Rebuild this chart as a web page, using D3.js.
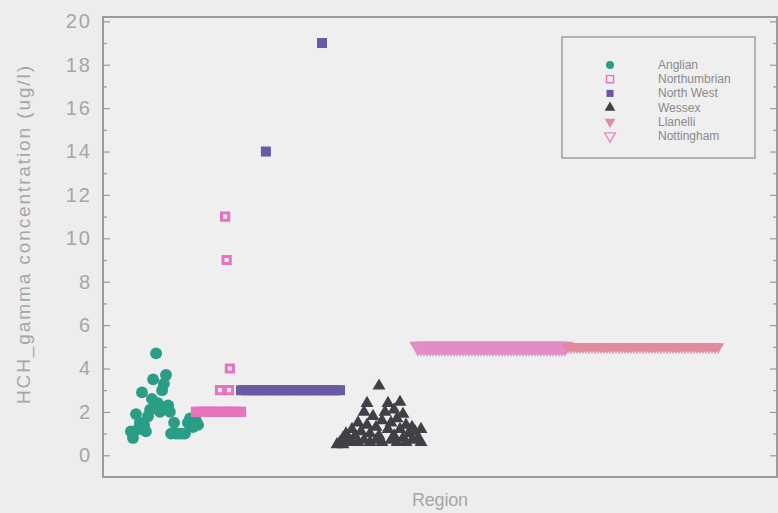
<!DOCTYPE html>
<html>
<head>
<meta charset="utf-8">
<script src="https://cdn.jsdelivr.net/npm/d3@7"></script>
<style>
  html, body { margin: 0; padding: 0; background: #ededed; }
  svg { display: block; }
</style>
</head>
<body>
<svg id="chart" width="778" height="513"></svg>
<script>
// ---------------- data (x = sample position along "Region", y = concentration ug/l)
const seriesNames = ["Anglian", "Northumbrian", "North West", "Wessex", "Llanelli", "Nottingham"];

const anglianX = [9.3, 10, 11, 11.7, 12.3, 13, 13.7, 14.3, 15, 15.7, 16.3, 16.7, 17.7, 18.3, 19, 19.7, 20.3, 21, 21.7, 22.3, 22.7, 23.7, 24.3, 25.3, 26.3, 27.3, 28.3, 29, 30, 31, 31.7];
const anglianY = [1.1, 0.8, 1.9, 1.2, 1.5, 2.9, 1.4, 1.1, 1.8, 2.1, 2.6, 3.5, 4.7, 2.4, 2.0, 3.0, 3.3, 3.7, 2.3, 2.0, 1.0, 1.5, 1.0, 1.0, 1.0, 1.0, 1.5, 1.7, 1.3, 1.6, 1.4];

const northumbrianX = [31, 32, 33, 34, 35, 36, 37, 38, 39, 40, 41, 42, 43, 44, 45, 46, 39, 40.7, 41.2, 42, 42.3];
const northumbrianY = [2, 2, 2, 2, 2, 2, 2, 2, 2, 2, 2, 2, 2, 2, 2, 2, 3, 11, 9, 3, 4];

const northWestX = [46, 47, 48, 49, 50, 51, 52, 53, 54, 55, 56, 57, 58, 59, 60, 61, 62, 63, 64, 65, 66, 67, 68, 69, 70, 71, 72, 73, 74, 75, 76, 77, 78, 79, 54.3, 73];
const northWestY = [3, 3, 3, 3, 3, 3, 3, 3, 3, 3, 3, 3, 3, 3, 3, 3, 3, 3, 3, 3, 3, 3, 3, 3, 3, 3, 3, 3, 3, 3, 3, 3, 3, 3, 14, 19];

const wessexX = [78, 79, 80, 80, 81, 82, 83, 83, 84, 85, 85, 86, 87, 87, 88, 88, 89, 89, 90, 91, 91, 92, 92, 93, 93, 94, 95, 95, 96, 96, 97, 97, 98, 98, 99, 99, 100, 100, 101, 101, 102, 103, 103, 104, 105, 106, 106];
const wessexY = [0.5, 0.6, 0.8, 0.5, 1.0, 0.7, 1.2, 0.6, 0.9, 1.5, 0.6, 1.1, 2.0, 0.7, 2.4, 1.4, 1.0, 0.6, 1.8, 1.3, 0.7, 3.2, 0.9, 1.6, 0.6, 2.0, 2.4, 1.2, 1.5, 0.7, 2.1, 0.9, 1.7, 0.6, 2.45, 1.2, 1.9, 0.8, 1.4, 0.6, 1.0, 1.3, 0.7, 1.1, 0.8, 1.2, 0.6];

const nottinghamX = [105, 106, 107, 108, 109, 110, 111, 112, 113, 114, 115, 116, 117, 118, 119, 120, 121, 122, 123, 124, 125, 126, 127, 128, 129, 130, 131, 132, 133, 134, 135, 136, 137, 138, 139, 140, 141, 142, 143, 144, 145, 146, 147, 148, 149, 150, 151, 152, 153, 154];
const nottinghamY = [5, 5, 5, 5, 5, 5, 5, 5, 5, 5, 5, 5, 5, 5, 5, 5, 5, 5, 5, 5, 5, 5, 5, 5, 5, 5, 5, 5, 5, 5, 5, 5, 5, 5, 5, 5, 5, 5, 5, 5, 5, 5, 5, 5, 5, 5, 5, 5, 5, 5];

const llanelliX = [155, 156, 157, 158, 159, 160, 161, 162, 163, 164, 165, 166, 167, 168, 169, 170, 171, 172, 173, 174, 175, 176, 177, 178, 179, 180, 181, 182, 183, 184, 185, 186, 187, 188, 189, 190, 191, 192, 193, 194, 195, 196, 197, 198, 199, 200, 201, 202, 203, 204, 205];
const llanelliY = [5, 5, 5, 5, 5, 5, 5, 5, 5, 5, 5, 5, 5, 5, 5, 5, 5, 5, 5, 5, 5, 5, 5, 5, 5, 5, 5, 5, 5, 5, 5, 5, 5, 5, 5, 5, 5, 5, 5, 5, 5, 5, 5, 5, 5, 5, 5, 5, 5, 5, 5];

const yTicks = [0, 2, 4, 6, 8, 10, 12, 14, 16, 18, 20];
const yMinorTicks = [1, 3, 5, 7, 9, 11, 13, 15, 17, 19];

// ---------------- styles
const styles = {
  "Anglian":      { shape: d3.symbolCircle,   size: 110, fill: "#2a9d86", stroke: "none", rotate: 0 },
  "Northumbrian": { shape: d3.symbolSquare,   size: 52, fill: "none",    stroke: "#e872bd", sw: 3, rotate: 0 },
  "North West":   { shape: d3.symbolSquare,   size: 100, fill: "#6a5aa6", stroke: "none", rotate: 0 },
  "Wessex":       { shape: d3.symbolTriangle, size: 72, fill: "#404046", stroke: "none", rotate: 0 },
  "Llanelli":     { shape: d3.symbolTriangle, size: 66, fill: "#e08b9f", stroke: "none", rotate: 180 },
  "Nottingham":   { shape: d3.symbolTriangle, size: 66, fill: "none",    stroke: "#e38cc6", sw: 2.8, rotate: 180 }
};

const series = [
  { name: "Anglian", x: anglianX, y: anglianY },
  { name: "Northumbrian", x: northumbrianX, y: northumbrianY },
  { name: "North West", x: northWestX, y: northWestY },
  { name: "Wessex", x: wessexX, y: wessexY },
  { name: "Nottingham", x: nottinghamX, y: nottinghamY },
  { name: "Llanelli", x: llanelliX, y: llanelliY }
];

// ---------------- layout
const svg = d3.select("#chart");
const L = 103, R = 777, T = 17, B = 477;

const x = d3.scaleLinear().domain([0, 225]).range([L, L + 675]);
const y = d3.scaleLinear().domain([-1, 20.2]).range([B, T]);

svg.append("rect").attr("width", 778).attr("height", 513).attr("fill", "#ededed");
svg.append("rect").attr("x", L).attr("y", T).attr("width", R - L).attr("height", B - T)
  .attr("fill", "#efeff0");

// points
const g = svg.append("g");
series.forEach(s => {
  const st = styles[s.name];
  const sym = d3.symbol().type(st.shape).size(st.size);
  g.append("g").selectAll("path")
    .data(s.x.map((v, i) => ({ x: v, y: s.y[i] })))
    .join("path")
    .attr("d", sym)
    .attr("transform", d => `translate(${x(d.x)},${y(d.y)}) rotate(${st.rotate})`)
    .attr("fill", st.fill)
    .attr("stroke", st.stroke)
    .attr("stroke-width", st.sw || 0);
});

// axes
const axisColor = "#9a9a9a";
const yAxisL = d3.axisRight(y).tickValues(yTicks).tickSize(7).tickFormat("");
const gL = svg.append("g").attr("transform", `translate(${L},0)`).call(yAxisL);
const yMinorL = d3.axisRight(y).tickValues(yMinorTicks).tickSize(4).tickFormat("");
const gLm = svg.append("g").attr("transform", `translate(${L},0)`).call(yMinorL);
const yAxisR = d3.axisLeft(y).tickValues(yTicks).tickSize(7).tickFormat("");
const gR = svg.append("g").attr("transform", `translate(${R},0)`).call(yAxisR);
const yMinorR = d3.axisLeft(y).tickValues(yMinorTicks).tickSize(4).tickFormat("");
const gRm = svg.append("g").attr("transform", `translate(${R},0)`).call(yMinorR);
[gL, gLm, gR, gRm].forEach(a => {
  a.select(".domain").remove();
  a.selectAll("line").attr("stroke", axisColor).attr("stroke-width", 1.2);
});

// frame
svg.append("rect").attr("x", L).attr("y", T).attr("width", R - L).attr("height", B - T)
  .attr("fill", "none").attr("stroke", "#9c9c9c").attr("stroke-width", 2);

// tick labels
const labelAxis = d3.axisLeft(y).tickValues(yTicks).tickSize(0).tickPadding(11).tickFormat(d3.format("d"));
const gLab = svg.append("g").attr("transform", `translate(${L},0)`).call(labelAxis);
gLab.select(".domain").remove();
gLab.selectAll("text")
  .attr("fill", "#a6a6a6")
  .style("font-family", "'Liberation Sans', Arial, sans-serif")
  .style("font-size", "20px")
  .style("letter-spacing", "2px");

// axis titles
svg.append("text")
  .attr("transform", "translate(30,235) rotate(-90)")
  .attr("text-anchor", "middle")
  .attr("fill", "#a6a6a6")
  .attr("textLength", 338)
  .attr("lengthAdjust", "spacing")
  .style("font-family", "'Liberation Sans', Arial, sans-serif")
  .style("font-size", "19px")
  .text("HCH_gamma concentration (ug/l)");

svg.append("text")
  .attr("x", 440).attr("y", 506)
  .attr("text-anchor", "middle")
  .attr("fill", "#a6a6a6")
  .attr("textLength", 56)
  .attr("lengthAdjust", "spacing")
  .style("font-family", "'Liberation Sans', Arial, sans-serif")
  .style("font-size", "18px")
  .text("Region");

// legend
const lg = svg.append("g");
lg.append("rect").attr("x", 562).attr("y", 37).attr("width", 193).attr("height", 121)
  .attr("fill", "#efeff0").attr("stroke", "#a0a0a0").attr("stroke-width", 1.5);
seriesNames.forEach((name, i) => {
  const st = styles[name];
  const ly = 65 + i * 14.2;
  lg.append("path")
    .attr("d", d3.symbol().type(st.shape).size(50)())
    .attr("transform", `translate(610,${ly}) rotate(${st.rotate})`)
    .attr("fill", st.fill)
    .attr("stroke", st.stroke)
    .attr("stroke-width", st.sw ? 1.4 : 0);
  lg.append("text")
    .attr("x", 658).attr("y", ly + 4)
    .attr("fill", "#8a8a8a")
    .style("font-family", "'Liberation Sans', Arial, sans-serif")
    .style("font-size", "12px")
    .text(name);
});
</script>
</body>
</html>
